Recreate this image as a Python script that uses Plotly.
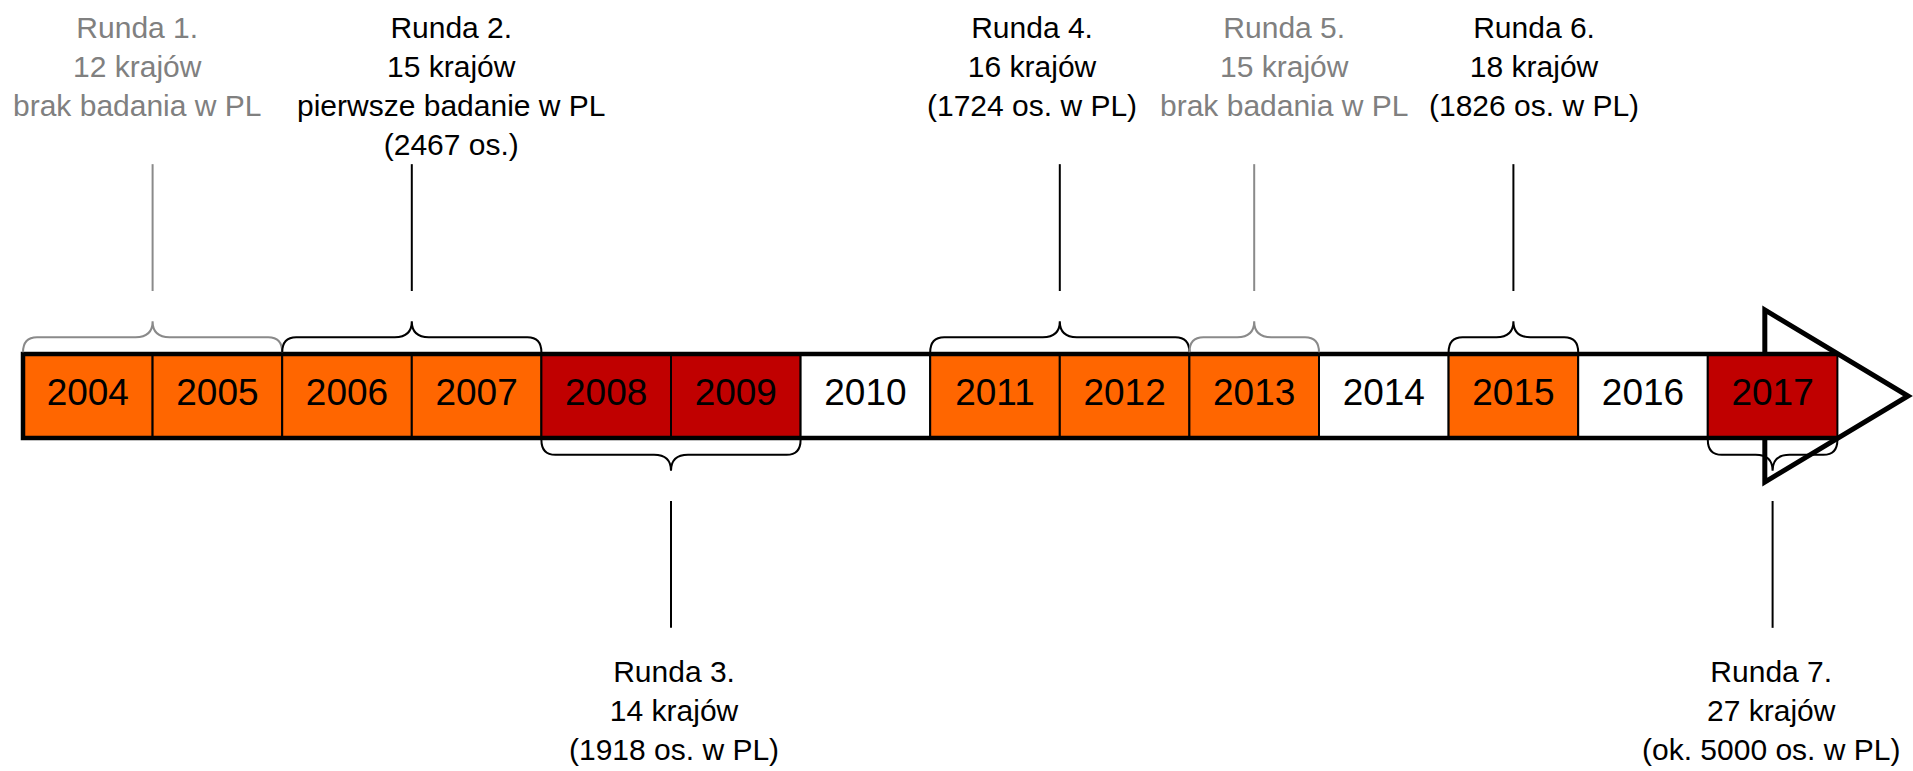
import plotly.graph_objects as go

# ---------------- data ----------------
years = [2004, 2005, 2006, 2007, 2008, 2009, 2010, 2011, 2012, 2013, 2014, 2015, 2016, 2017]
year_kind = ["survey", "survey", "survey", "survey", "survey_hl", "survey_hl", "none",
             "survey", "survey", "survey", "none", "survey", "none", "survey_hl"]

round_names = ["Runda 1.", "Runda 2.", "Runda 3.", "Runda 4.", "Runda 5.", "Runda 6.", "Runda 7."]
round_countries = [12, 15, 14, 16, 15, 18, 27]
round_notes = [
    ["brak badania w PL"],
    ["pierwsze badanie w PL", "(2467 os.)"],
    ["(1918 os. w PL)"],
    ["(1724 os. w PL)"],
    ["brak badania w PL"],
    ["(1826 os. w PL)"],
    ["(ok. 5000 os. w PL)"],
]
round_start = [2004, 2006, 2008, 2011, 2013, 2015, 2017]
round_end = [2005, 2007, 2009, 2012, 2013, 2015, 2017]
round_side = ["above", "above", "below", "above", "above", "above", "below"]
round_in_pl = [False, True, True, True, False, True, True]

# ---------------- styles ----------------
FONT = "Liberation Sans, Arial, sans-serif"
kind_color = {"survey": "#FF6600", "survey_hl": "#C00000", "none": "#FFFFFF"}
GRAY = "#808080"
GRAY_LINE = "#8a8a8a"
label_xshift = [-15, 40, 3, -28, 30, 21, -2]   # px offsets of the text boxes

W, H = 1913, 771
CELL_PX = 129.6          # px per year
BAR_PX = 84.0            # px per y unit (bar height = 1)
LEFT_PX = 23.0           # left edge of first cell
MID_PX = 396.0           # vertical centre of bar

x_min = years[0] - 0.5 - LEFT_PX / CELL_PX
x_max = x_min + W / CELL_PX
y_max = MID_PX / BAR_PX
y_min = y_max - H / BAR_PX

fig = go.Figure()

# cells of the timeline
fig.add_trace(go.Bar(
    x=years, y=[1] * len(years), base=-0.5, width=1,
    marker=dict(color=[kind_color[k] for k in year_kind], line=dict(color="black", width=2)),
    hoverinfo="skip",
))
# year labels
fig.add_trace(go.Scatter(
    x=years, y=[0] * len(years), mode="text", text=[str(y) for y in years],
    textposition="middle center", textfont=dict(family=FONT, size=37, color="black"),
    hoverinfo="skip",
))

shapes = []
last = years[-1]
first = years[0]
# arrow head (under the cells)
base_x = last - 0.06
tip_x = last + 1.045
hh = 1.024
shapes.append(dict(
    type="path", layer="below",
    path=f"M{base_x},0.5 L{base_x},{hh} L{tip_x},0 L{base_x},{-hh} L{base_x},-0.5 Z",
    fillcolor="white", line=dict(color="black", width=5),
))
# thick shaft outline
shapes.append(dict(
    type="path", layer="above",
    path=f"M{last + 0.5},0.5 L{first - 0.5},0.5 L{first - 0.5},-0.5 L{last + 0.5},-0.5",
    line=dict(color="black", width=4.5),
))

r_end = 14 / CELL_PX
r_tip = 17 / CELL_PX
annotations = []
for i, name in enumerate(round_names):
    x0 = round_start[i] - 0.5
    x1 = round_end[i] + 0.5
    xm = (x0 + x1) / 2
    s = 1 if round_side[i] == "above" else -1
    yb, yf, yt = s * 0.52, s * 0.70, s * 0.89
    col_line = "black" if round_in_pl[i] else GRAY_LINE
    col_text = "black" if round_in_pl[i] else GRAY
    path = (f"M{x0},{yb} Q{x0},{yf} {x0 + r_end},{yf} L{xm - r_tip},{yf} "
            f"Q{xm},{yf} {xm},{yt} Q{xm},{yf} {xm + r_tip},{yf} "
            f"L{x1 - r_end},{yf} Q{x1},{yf} {x1},{yb}")
    shapes.append(dict(type="path", layer="above", path=path,
                       line=dict(color=col_line, width=2)))
    shapes.append(dict(type="line", layer="above", x0=xm, x1=xm,
                       y0=s * 1.25, y1=s * 2.76, line=dict(color=col_line, width=2)))
    text = "<br>".join([name, f"{round_countries[i]} krajów"] + round_notes[i])
    annotations.append(dict(
        x=xm, y=(4.61 if s > 0 else -3.06), xref="x", yref="y",
        xanchor="center", yanchor="top", xshift=label_xshift[i],
        text=text, showarrow=False, align="center",
        font=dict(family=FONT, size=30, color=col_text),
    ))

fig.update_layout(
    width=W, height=H, margin=dict(l=0, r=0, t=0, b=0),
    paper_bgcolor="white", plot_bgcolor="white", showlegend=False,
    xaxis=dict(range=[x_min, x_max], visible=False, fixedrange=True),
    yaxis=dict(range=[y_min, y_max], visible=False, fixedrange=True),
    shapes=shapes, annotations=annotations,
)

fig.write_html("out.html", config={"displayModeBar": False},
               post_script="document.body.style.margin='0';document.body.style.overflow='hidden';")
